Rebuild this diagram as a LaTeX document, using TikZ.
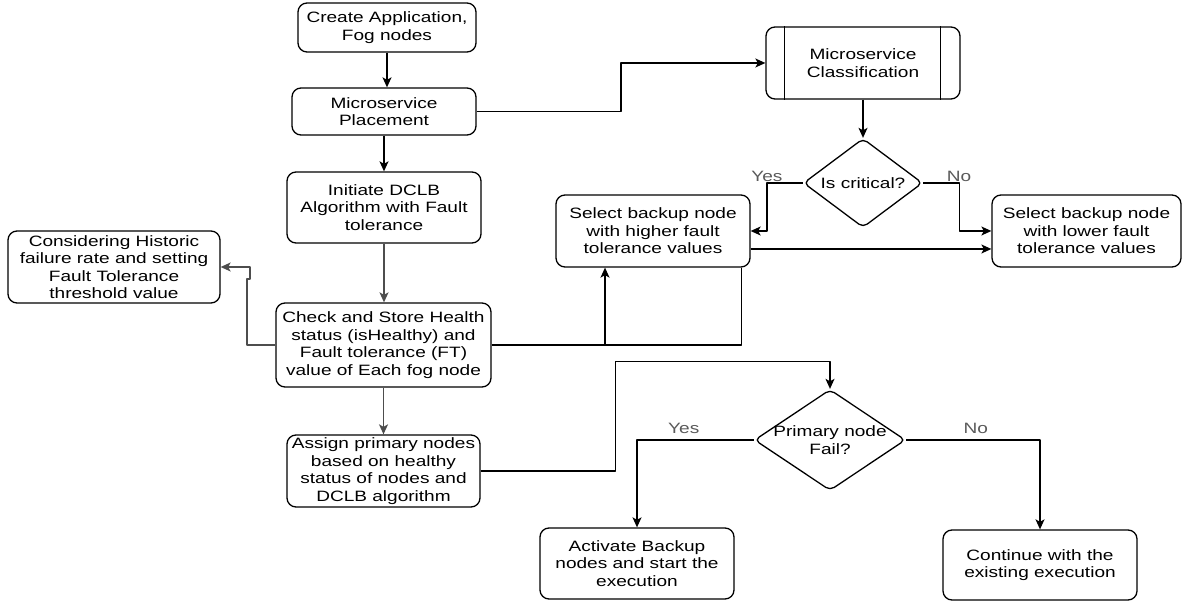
\documentclass[tikz,border=0pt]{standalone}
\usepackage{fontspec}
\setmainfont{Liberation Sans}[FakeStretch=1.27]
\usetikzlibrary{shapes.geometric,arrows.meta}
\definecolor{answergray}{HTML}{5A5A5A}
\definecolor{edgegray}{HTML}{4D4D4D}
\tikzset{
  box/.style={draw,rounded corners=9bp,align=center,inner sep=0pt},
  decision/.style={draw,diamond,aspect=1.4,rounded corners=5bp,align=center,inner sep=0pt},
  answer/.style={text=answergray,inner sep=1bp},
}
\begin{document}
\begin{tikzpicture}[>={Stealth[length=10bp,width=9bp,inset=2.5bp]},line join=bevel,line width=1.3bp,font=\fontsize{15bp}{17.5bp}\selectfont]
%%
\useasboundingbox (0bp,0bp) rectangle (1184bp,603bp);
\node (node_create) at (387bp,575.5bp) [box,minimum width=178bp,minimum height=49bp] {Create Application,\\Fog nodes};
  \node (node_place) at (384bp,491.5bp) [box,minimum width=184bp,minimum height=47bp] {Microservice\\Placement};
  \node (node_init) at (384bp,395.5bp) [box,minimum width=194bp,minimum height=71bp] {Initiate DCLB\\Algorithm with Fault\\tolerance};
  \node (node_hist) at (114bp,336bp) [box,minimum width=212bp,minimum height=72bp] {Considering Historic\\failure rate and setting\\Fault Tolerance\\threshold value};
  \node (node_check) at (383.5bp,258bp) [box,minimum width=215bp,minimum height=84bp] {Check and Store Health\\status (isHealthy) and\\Fault tolerance (FT)\\value of Each fog node};
  \node (node_assign) at (383.5bp,132bp) [box,minimum width=193bp,minimum height=72bp] {Assign primary nodes\\based on healthy\\status of nodes and\\DCLB algorithm};
  \node (node_classify) at (863bp,540bp) [box,minimum width=194bp,minimum height=72bp] {Microservice\\Classification};
  \node (node_critical) at (863bp,420bp) [decision,minimum width=119bp,minimum height=89bp] {Is critical?};
  \node (node_higher) at (653bp,372bp) [box,minimum width=194bp,minimum height=72bp] {Select backup node\\with higher fault\\tolerance values};
  \node (node_lower) at (1086.5bp,372bp) [box,minimum width=189bp,minimum height=72bp] {Select backup node\\with lower fault\\tolerance values};
  \node (node_fail) at (830bp,163bp) [decision,minimum width=151bp,minimum height=101bp] {};
  \node (node_failtext) at (node_fail) [align=center] {Primary node\\Fail?};
  \node (node_activate) at (637bp,39.5bp) [box,minimum width=194bp,minimum height=71bp] {Activate Backup\\nodes and start the\\execution};
  \node (node_continue) at (1040bp,38bp) [box,minimum width=194bp,minimum height=70bp] {Continue with the\\existing execution};
  \draw ([xshift=19bp]node_classify.north west) -- ([xshift=19bp]node_classify.south west);
  \draw ([xshift=-20bp]node_classify.north east) -- ([xshift=-20bp]node_classify.south east);
  \draw [black,->] (node_create.south) -- (node_create.south |- node_place.north);
  \draw [black,->] (node_place.south) -- (node_init.north);
  \draw [edgegray,->] (node_init.south) -- (node_init.south |- node_check.north);
  \draw [edgegray,->] (node_check.south) -- (node_check.south |- node_assign.north);
  \draw [black,->] (node_place.east) -- (621bp,491.5bp) |- (node_classify.west);
  \draw [edgegray,->] (node_check.west) -- (247bp,258bp) -- (247bp,324bp) -- (250bp,324bp) |- (node_hist.east);
  \draw [black,->] (node_check.east) -| ([xshift=-48bp]node_higher.south);
  \draw [black] ([xshift=-9bp]node_higher.south east) |- (node_check.east);
  \draw [black,->] ([yshift=-18bp]node_higher.east) -- ([yshift=-18bp]node_lower.west);
  \draw [black,->] (node_classify.south) -- (node_critical.north);
  \draw [black,->] (node_critical.west) -- ++(-36bp,0) node [answer,above] {Yes} |- (node_higher.east);
  \draw [black,->] (node_critical.east) -- ++(36bp,0) node [answer,above] {No} |- (node_lower.west);
  \draw [black,->] (node_assign.east) -- ++(135bp,0) |- ([yshift=27bp]node_fail.north) -- (node_fail.north);
  \draw [black,->] (node_fail.west) -| node [answer,pos=0.3,above=5bp] {Yes} (node_activate.north);
  \draw [black,->] (node_fail.east) -| node [answer,pos=0.26,above=5bp] {No} (node_continue.north);
%
\end{tikzpicture}
\end{document}
